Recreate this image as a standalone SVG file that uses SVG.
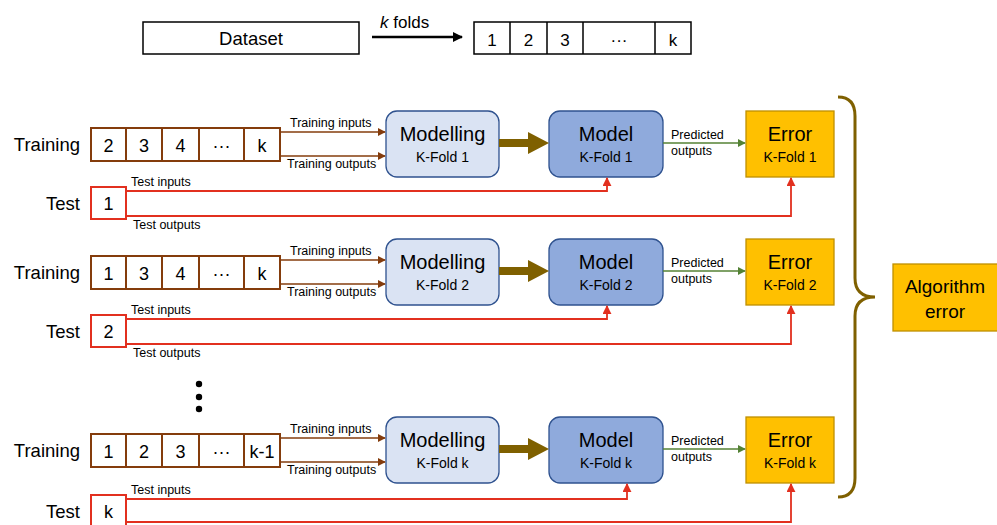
<svg xmlns="http://www.w3.org/2000/svg" width="997" height="525" viewBox="0 0 997 525">
<defs>
<style>
text{font-family:"Liberation Sans",Arial,sans-serif;fill:#000}
.lbl{font-size:18.5px}
.num{font-size:18px;text-anchor:middle}
.sm{font-size:12.5px}
.big{font-size:20px;text-anchor:middle}
.sub{font-size:14px;text-anchor:middle}
.tr{fill:#fff;stroke:#843c0c;stroke-width:2}
.trd{stroke:#843c0c;stroke-width:2}
.te{fill:#fff;stroke:#e2301f;stroke-width:2}
.mdl{fill:#dae3f3;stroke:#2f528f;stroke-width:1.3}
.mod{fill:#8faadc;stroke:#2f528f;stroke-width:1.3}
.err{fill:#ffc000;stroke:#bf9000;stroke-width:1.3}
.ca{fill:none;stroke:#843c0c;stroke-width:1.6;marker-end:url(#mb)}
.cr{fill:none;stroke:#e2301f;stroke-width:1.8;marker-end:url(#mr)}
.cg{fill:none;stroke:#548235;stroke-width:1.6;marker-end:url(#mg)}
.fat{fill:#7f6000}
</style>
<marker id="mb" viewBox="0 0 10 10" refX="9" refY="5" markerWidth="5" markerHeight="5" orient="auto"><path d="M0,0 L10,5 L0,10 z" fill="#843c0c"/></marker>
<marker id="mr" viewBox="0 0 10 10" refX="9" refY="5" markerWidth="5" markerHeight="5" orient="auto"><path d="M0,0 L10,5 L0,10 z" fill="#e2301f"/></marker>
<marker id="mg" viewBox="0 0 10 10" refX="9" refY="5" markerWidth="5" markerHeight="5" orient="auto"><path d="M0,0 L10,5 L0,10 z" fill="#548235"/></marker>
<marker id="mk" viewBox="0 0 10 10" refX="9" refY="5" markerWidth="4" markerHeight="4" orient="auto"><path d="M0,0 L10,5 L0,10 z" fill="#000"/></marker>
</defs>
<rect width="997" height="525" fill="#fff"/>

<!-- top -->
<g id="dataset">
<rect x="143" y="22" width="216" height="32" fill="#fff" stroke="#000" stroke-width="1.5"/>
<text class="lbl" x="251" y="45" text-anchor="middle">Dataset</text>
</g>
<g id="folds">
<rect x="474" y="22" width="217" height="32" fill="#fff" stroke="#000" stroke-width="1.5"/>
<path d="M510,22V54M547,22V54M583,22V54M655,22V54" stroke="#000" stroke-width="1.5"/>
<text class="num" x="492" y="46" style="font-size:17px">1</text>
<text class="num" x="528.5" y="46" style="font-size:17px">2</text>
<text class="num" x="565" y="46" style="font-size:17px">3</text>
<text class="num" x="619" y="46" style="font-size:17px">···</text>
<text class="num" x="673" y="46" style="font-size:17px">k</text>
</g>

<!-- Row 1 -->
<g id="row1">
<g id="train1"><text class="lbl" x="80" y="151" text-anchor="end">Training</text>
<rect class="tr" x="91" y="128" width="189" height="33"/>
<path class="trd" d="M126,128V161M162,128V161M199,128V161M244,128V161"/>
<text class="num" x="108.5" y="152">2</text><text class="num" x="144" y="152">3</text><text class="num" x="180.5" y="152">4</text><text class="num" x="221.5" y="152">···</text><text class="num" x="262" y="152">k</text></g>
<g id="test1"><text class="lbl" x="80" y="210" text-anchor="end">Test</text>
<rect class="te" x="91" y="187" width="35" height="32"/><text class="num" x="108.5" y="210">1</text></g>
<g id="modelling1"><rect class="mdl" x="386" y="111" width="113" height="66" rx="11"/><text class="big" x="442.5" y="141">Modelling</text><text class="sub" x="442.5" y="162">K-Fold 1</text></g>
<g id="model1"><rect class="mod" x="549" y="111" width="114" height="66" rx="11"/><text class="big" x="606" y="141">Model</text><text class="sub" x="606" y="162">K-Fold 1</text></g>
<g id="error1"><rect class="err" x="746" y="111" width="88" height="66"/><text class="big" x="790" y="141">Error</text><text class="sub" x="790" y="162">K-Fold 1</text></g>
</g>

<g id="row2" transform="translate(0,128)">
<g id="train2"><text class="lbl" x="80" y="151" text-anchor="end">Training</text>
<rect class="tr" x="91" y="128" width="189" height="33"/>
<path class="trd" d="M126,128V161M162,128V161M199,128V161M244,128V161"/>
<text class="num" x="108.5" y="152">1</text><text class="num" x="144" y="152">3</text><text class="num" x="180.5" y="152">4</text><text class="num" x="221.5" y="152">···</text><text class="num" x="262" y="152">k</text></g>
<g id="test2"><text class="lbl" x="80" y="210" text-anchor="end">Test</text>
<rect class="te" x="91" y="187" width="35" height="32"/><text class="num" x="108.5" y="210">2</text></g>
<g id="modelling2"><rect class="mdl" x="386" y="111" width="113" height="66" rx="11"/><text class="big" x="442.5" y="141">Modelling</text><text class="sub" x="442.5" y="162">K-Fold 2</text></g>
<g id="model2"><rect class="mod" x="549" y="111" width="114" height="66" rx="11"/><text class="big" x="606" y="141">Model</text><text class="sub" x="606" y="162">K-Fold 2</text></g>
<g id="error2"><rect class="err" x="746" y="111" width="88" height="66"/><text class="big" x="790" y="141">Error</text><text class="sub" x="790" y="162">K-Fold 2</text></g>
</g>

<g id="dots" fill="#000"><circle cx="199" cy="384" r="3.2"/><circle cx="199" cy="397" r="3.2"/><circle cx="199" cy="409" r="3.2"/></g>

<g id="rowk" transform="translate(0,306)">
<g id="traink"><text class="lbl" x="80" y="151" text-anchor="end">Training</text>
<rect class="tr" x="91" y="128" width="189" height="33"/>
<path class="trd" d="M126,128V161M162,128V161M199,128V161M244,128V161"/>
<text class="num" x="108.5" y="152">1</text><text class="num" x="144" y="152">2</text><text class="num" x="180.5" y="152">3</text><text class="num" x="221.5" y="152">···</text><text class="num" x="262" y="152">k-1</text></g>
<g id="testk"><text class="lbl" x="80" y="212" text-anchor="end">Test</text>
<rect class="te" x="91" y="189" width="35" height="32"/><text class="num" x="108.5" y="212">k</text></g>
<g id="modellingk"><rect class="mdl" x="386" y="111" width="113" height="66" rx="11"/><text class="big" x="442.5" y="141">Modelling</text><text class="sub" x="442.5" y="162">K-Fold k</text></g>
<g id="modelk"><rect class="mod" x="549" y="111" width="114" height="66" rx="11"/><text class="big" x="606" y="141">Model</text><text class="sub" x="606" y="162">K-Fold k</text></g>
<g id="errork"><rect class="err" x="746" y="111" width="88" height="66"/><text class="big" x="790" y="141">Error</text><text class="sub" x="790" y="162">K-Fold k</text></g>
</g>

<g id="algerror">
<rect class="err" x="893" y="264" width="106" height="67"/>
<text x="945" y="293" text-anchor="middle" style="font-size:19px">Algorithm</text>
<text x="945" y="318" text-anchor="middle" style="font-size:19px">error</text>
</g>

<g id="connectors">
<line x1="372" y1="37" x2="462" y2="37" stroke="#000" stroke-width="2.5" marker-end="url(#mk)"/>
<text x="380" y="28" style="font-size:17px"><tspan font-style="italic">k</tspan> folds</text>
<path d="M838,97 Q855,97 855,116 L855,278 Q855,297 875,297 Q855,297 855,316 L855,478 Q855,497 838,497" fill="none" stroke="#7f6000" stroke-width="3"/>

<g id="conn1">
<path class="ca" d="M280,132H385"/><text class="sm" x="290" y="127">Training inputs</text>
<path class="ca" d="M280,156H385"/><text class="sm" x="287" y="168">Training outputs</text>
<polygon class="fat" points="499,139 528,139 528,132 549,143 528,154 528,147 499,147"/>
<path class="cg" d="M663,143H745"/><text class="sm" x="671" y="139">Predicted</text><text class="sm" x="671" y="155">outputs</text>
<path class="cr" d="M126,191H607V178"/><text class="sm" x="131" y="186">Test inputs</text>
<path class="cr" d="M126,216H791V178"/><text class="sm" x="133" y="229">Test outputs</text>
</g>
<g id="conn2" transform="translate(0,128)">
<path class="ca" d="M280,132H385"/><text class="sm" x="290" y="127">Training inputs</text>
<path class="ca" d="M280,156H385"/><text class="sm" x="287" y="168">Training outputs</text>
<polygon class="fat" points="499,139 528,139 528,132 549,143 528,154 528,147 499,147"/>
<path class="cg" d="M663,143H745"/><text class="sm" x="671" y="139">Predicted</text><text class="sm" x="671" y="155">outputs</text>
<path class="cr" d="M126,191H607V178"/><text class="sm" x="131" y="186">Test inputs</text>
<path class="cr" d="M126,216H791V178"/><text class="sm" x="133" y="229">Test outputs</text>
</g>
<g id="connk" transform="translate(0,306)">
<path class="ca" d="M280,132H385"/><text class="sm" x="290" y="127">Training inputs</text>
<path class="ca" d="M280,156H385"/><text class="sm" x="287" y="168">Training outputs</text>
<polygon class="fat" points="499,139 528,139 528,132 549,143 528,154 528,147 499,147"/>
<path class="cg" d="M663,143H745"/><text class="sm" x="671" y="139">Predicted</text><text class="sm" x="671" y="155">outputs</text>
<path class="cr" d="M126,193H627V178"/><text class="sm" x="131" y="188">Test inputs</text>
<path class="cr" d="M126,216H791V178"/>
</g>
</g>
</svg>
